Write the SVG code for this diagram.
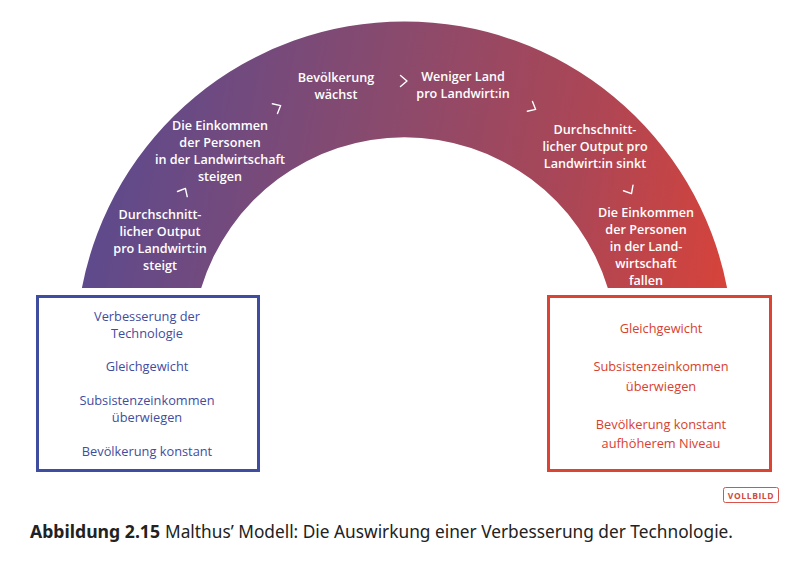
<svg xmlns="http://www.w3.org/2000/svg" width="806" height="562" viewBox="0 0 806 562">
<defs>
<linearGradient id="archGrad" gradientUnits="userSpaceOnUse" x1="82" y1="170" x2="727" y2="290">
<stop offset="0" stop-color="#5b4a8f"/>
<stop offset="0.45" stop-color="#8b4a6c"/>
<stop offset="0.75" stop-color="#ac4655"/>
<stop offset="1" stop-color="#d7433a"/>
</linearGradient>
<path id="chev" d="M-3.5,-5.5 L3,0 L-3.5,5.5"/>
</defs>
<style>
.arch-t{font-family:"Open Sans","Noto Sans",sans-serif;font-size:12.6px;font-weight:600;fill:#ffffff;text-anchor:middle}
.chev{fill:none;stroke:#ffffff;stroke-width:1.4;stroke-linecap:round;stroke-linejoin:round}
.box-l{fill:#ffffff;stroke:#3f4da0;stroke-width:3}
.box-r{fill:#ffffff;stroke:#db4433;stroke-width:3}
.t-l{font-family:"Open Sans","Noto Sans",sans-serif;font-size:12.8px;fill:#3f4da0;text-anchor:middle}
.t-r{font-family:"Open Sans","Noto Sans",sans-serif;font-size:12.8px;fill:#d8412f;text-anchor:middle}
.cap{font-family:"Noto Sans","Open Sans",sans-serif;font-size:18px;fill:#222222}
</style>
<rect width="806" height="562" fill="#ffffff"/>
<g id="arch">
<path d="M81.9,288 A328.5,328.5 0 0 1 727.1,288 L607.8,288 A212.5,212.5 0 0 0 201.2,288 Z" fill="url(#archGrad)"/>
</g>
<g id="connectors">
<use href="#chev" class="chev" transform="translate(184,191) rotate(-62)"/>
<use href="#chev" class="chev" transform="translate(278,107) rotate(-28)"/>
<use href="#chev" class="chev" transform="translate(404,81)"/>
<use href="#chev" class="chev" transform="translate(533,108) rotate(28)"/>
<use href="#chev" class="chev" transform="translate(630,191) rotate(60)"/>
</g>
<g id="n1">
<text class="arch-t" x="160" y="219">Durchschnitt-</text>
<text class="arch-t" x="160" y="236">licher Output</text>
<text class="arch-t" x="160" y="253">pro Landwirt:in</text>
<text class="arch-t" x="160" y="270">steigt</text>
</g>
<g id="n2">
<text class="arch-t" x="220" y="130">Die Einkommen</text>
<text class="arch-t" x="220" y="147">der Personen</text>
<text class="arch-t" x="220" y="164">in der Landwirtschaft</text>
<text class="arch-t" x="220" y="181">steigen</text>
</g>
<g id="n3">
<text class="arch-t" x="336" y="82">Bevölkerung</text>
<text class="arch-t" x="336" y="99">wächst</text>
</g>
<g id="n4">
<text class="arch-t" x="463" y="81">Weniger Land</text>
<text class="arch-t" x="463" y="98">pro Landwirt:in</text>
</g>
<g id="n5">
<text class="arch-t" x="595" y="134">Durchschnitt-</text>
<text class="arch-t" x="595" y="151">licher Output pro</text>
<text class="arch-t" x="595" y="168">Landwirt:in sinkt</text>
</g>
<g id="n6">
<text class="arch-t" x="646" y="217">Die Einkommen</text>
<text class="arch-t" x="646" y="234">der Personen</text>
<text class="arch-t" x="646" y="251">in der Land-</text>
<text class="arch-t" x="646" y="268">wirtschaft</text>
<text class="arch-t" x="646" y="285">fallen</text>
</g>
<g id="box-left">
<rect class="box-l" x="37.5" y="296.5" width="221" height="174"/>
<text class="t-l" x="147" y="321">Verbesserung der</text>
<text class="t-l" x="147" y="338">Technologie</text>
<text class="t-l" x="147" y="371">Gleichgewicht</text>
<text class="t-l" x="147" y="405">Subsistenzeinkommen</text>
<text class="t-l" x="147" y="422">überwiegen</text>
<text class="t-l" x="147" y="456">Bevölkerung konstant</text>
</g>
<g id="box-right">
<rect class="box-r" x="548.5" y="296.5" width="222" height="174"/>
<text class="t-r" x="661" y="333">Gleichgewicht</text>
<text class="t-r" x="661" y="371">Subsistenzeinkommen</text>
<text class="t-r" x="661" y="391">überwiegen</text>
<text class="t-r" x="661" y="429">Bevölkerung konstant</text>
<text class="t-r" x="661" y="448">aufhöherem Niveau</text>
</g>
<g id="badge">
<rect x="723.5" y="487.5" width="55" height="15" rx="2" fill="#ffffff" stroke="#d9534a" stroke-width="1"/>
<text x="751" y="498.5" font-family="'Open Sans','Noto Sans',sans-serif" font-size="8.5" font-weight="700" fill="#d04a40" text-anchor="middle" letter-spacing="0.6">VOLLBILD</text>
</g>
<g id="caption">
<text class="cap" x="30" y="538" font-weight="700" textLength="130" lengthAdjust="spacingAndGlyphs">Abbildung 2.15</text>
<text class="cap" x="165" y="538" textLength="568" lengthAdjust="spacingAndGlyphs">Malthus’ Modell: Die Auswirkung einer Verbesserung der Technologie.</text>
</g>
</svg>
